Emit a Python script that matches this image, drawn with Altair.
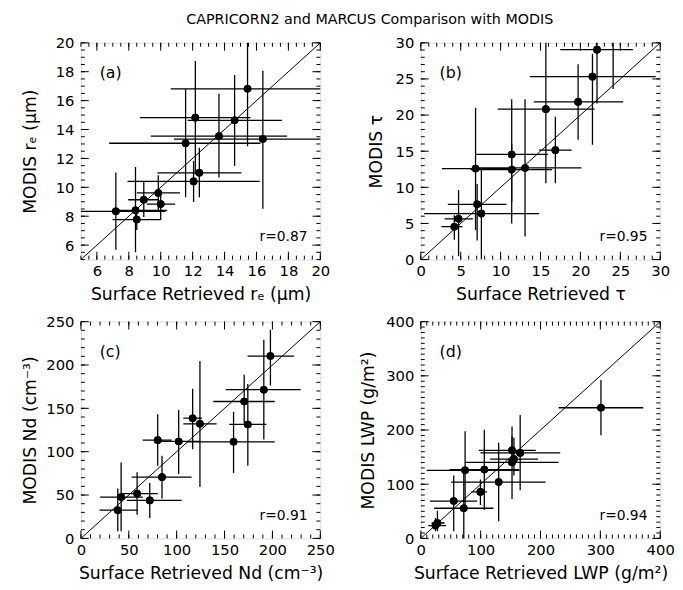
import altair as alt
import pandas as pd

FONT = "DejaVu Sans"
W, H = 243, 220
MAJ, MIN = 8, 4

title_text = "CAPRICORN2 and MARCUS Comparison with MODIS"

# ---------------- (a) effective radius ----------------
re_sfc = [7.19, 8.42, 8.5, 8.94, 9.85, 10.0, 11.56, 12.06, 12.17, 12.42, 13.65, 14.63, 15.44, 16.4]
re_sfc_lo = [4.8, 6.98, 6.98, 7.96, 8.5, 9.13, 6.77, 7.92, 8.69, 9.79, 9.38, 11.69, 10.63, 10.83]
re_sfc_hi = [10.3, 10.4, 10.0, 9.9, 11.21, 10.9, 16.25, 16.2, 15.63, 15.06, 17.92, 17.6, 21.0, 21.0]
re_mod = [8.34, 8.41, 7.77, 9.14, 9.61, 8.84, 13.05, 10.41, 14.82, 11.0, 13.55, 14.64, 16.82, 13.34]
re_mod_lo = [5.68, 5.5, 7.05, 7.95, 8.4, 7.73, 9.32, 8.98, 10.9, 9.32, 10.68, 11.48, 12.84, 8.52]
re_mod_hi = [11.02, 11.41, 8.4, 10.41, 10.84, 9.43, 16.82, 11.82, 18.75, 12.73, 16.48, 17.77, 21.0, 18.07]
re_domain = [5, 20]
re_major = [6, 8, 10, 12, 14, 16, 18, 20]
re_minor = [5 + 0.5 * i for i in range(31)]

# ---------------- (b) optical depth ----------------
tau_sfc = [4.2, 4.73, 6.86, 7.06, 7.59, 11.39, 11.39, 13.06, 15.67, 16.86, 19.71, 21.51, 22.08, 24.1]
tau_sfc_lo = [2.57, 2.98, 2.65, 3.39, 0.41, 6.94, 6.24, 7.06, 9.63, 14.82, 14.16, 13.67, 17.47, 20.0]
tau_sfc_hi = [5.22, 6.53, 11.96, 10.73, 14.82, 15.92, 16.45, 20.12, 21.76, 18.9, 25.35, 29.43, 26.57, 28.0]
tau_mod = [4.55, 5.64, 12.59, 7.64, 6.36, 14.55, 12.45, 12.68, 20.82, 15.14, 21.82, 25.32, 29.05, 33.0]
tau_mod_lo = [2.73, 0.45, 4.1, 2.64, 0.0, 5.0, 8.0, 3.18, 10.55, 10.55, 16.6, 15.9, 21.6, 23.6]
tau_mod_hi = [6.14, 9.64, 21.0, 10.45, 12.6, 22.18, 16.0, 22.18, 31.0, 19.77, 27.05, 28.5, 31.0, 40.0]
tau_domain = [0, 30]
tau_major = [0, 5, 10, 15, 20, 25, 30]
tau_minor = list(range(0, 31))

# ---------------- (c) droplet number ----------------
nd_sfc = [38.5, 42.0, 58.7, 71.9, 80.2, 84.7, 102.1, 116.7, 124.3, 159.4, 170.5, 174.3, 191.0, 197.9]
nd_sfc_lo = [19.4, 20.1, 41.7, 47.9, 64.6, 53.0, 80.0, 107.0, 107.0, 110.0, 138.2, 154.9, 151.4, 174.0]
nd_sfc_hi = [59.0, 64.6, 80.2, 105.2, 94.8, 115.6, 124.0, 126.4, 141.7, 202.4, 202.4, 193.75, 229.5, 222.6]
nd_mod = [32.5, 47.6, 51.7, 43.8, 113.3, 70.6, 111.8, 138.6, 132.2, 111.4, 157.9, 131.4, 171.5, 210.3]
nd_mod_lo = [8.3, 8.3, 27.2, 23.4, 83.8, 46.1, 74.4, 102.7, 59.3, 75.5, 132.9, 83.8, 114.0, 176.4]
nd_mod_hi = [57.4, 87.6, 76.3, 63.8, 143.1, 95.2, 148.0, 172.6, 204.7, 146.1, 188.8, 178.2, 229.2, 240.6]
nd_domain = [0, 250]
nd_major = [0, 50, 100, 150, 200, 250]
nd_minor = list(range(0, 251, 10))

# ---------------- (d) liquid water path ----------------
lwp_sfc = [24.5, 27.8, 55.0, 71.8, 74.0, 99.6, 106.1, 130.1, 152.4, 152.4, 155.6, 166.0, 301.0]
lwp_sfc_lo = [12.5, 18.0, 15.2, 22.3, 9.8, 84.4, 47.9, 50.6, 73.5, 96.9, 115.9, 99.6, 230.2]
lwp_sfc_hi = [42.4, 39.7, 94.1, 121.4, 164.9, 110.5, 164.0, 208.4, 230.2, 192.1, 195.9, 232.9, 371.7]
lwp_mod = [23.6, 28.4, 68.9, 55.6, 125.7, 85.8, 126.9, 103.9, 140.2, 162.5, 146.2, 157.7, 241.1]
lwp_mod_lo = [13.3, 13.3, 13.3, -5.0, 55.6, 61.6, 52.6, 31.4, 72.5, 140.0, 116.0, 88.8, 190.3]
lwp_mod_hi = [37.5, 50.8, 116.0, 122.0, 197.6, 108.8, 200.6, 176.4, 188.5, 206.6, 185.5, 227.8, 292.4]
lwp_domain = [0, 400]
lwp_major = [0, 100, 200, 300, 400]
lwp_minor = list(range(0, 401, 10))


def tick_layers(vals, sc, length):
    """Inward ticks on all four sides of the frame, placed by the panel's scale."""
    tdf = pd.DataFrame({"v": vals})
    base = alt.Chart(tdf).mark_rule(color="black", strokeWidth=1)
    xs = alt.X("v:Q", scale=sc, axis=None)
    ys = alt.Y("v:Q", scale=sc, axis=None)
    return [
        base.encode(x=xs, y=alt.value(H), y2=alt.value(H - length)),
        base.encode(x=xs, y=alt.value(0), y2=alt.value(length)),
        base.encode(y=ys, x=alt.value(0), x2=alt.value(length)),
        base.encode(y=ys, x=alt.value(W), x2=alt.value(W - length)),
    ]


def make_panel(x, xlo, xhi, y, ylo, yhi, domain, major, minor,
               xtitle, ytitle, tag, rtext, ypad):
    df = pd.DataFrame({"x": x, "xlo": xlo, "xhi": xhi, "y": y, "ylo": ylo, "yhi": yhi})
    diag = pd.DataFrame({"v": domain})
    sc = alt.Scale(domain=domain, nice=False, zero=False)
    lab = dict(labelFont=FONT, labelFontSize=15, labelColor="black",
               labelOverlap=False, labelFlush=False, titleFont=FONT, titleFontSize=17.5,
               titleFontWeight="normal", titleColor="black", domain=False, grid=False,
               tickSize=0, tickOpacity=0)
    x_main = alt.Axis(orient="bottom", values=major, labelPadding=4,
                      title=xtitle, titlePadding=8, **lab)
    y_main = alt.Axis(orient="left", values=major, labelPadding=7,
                      title=ytitle, titlePadding=ypad, **lab)
    # first layer carries the axes (labels + titles)
    axes_layer = alt.Chart(df).mark_circle(color="black", opacity=1, size=60, clip=True).encode(
        x=alt.X("x:Q", scale=sc, axis=x_main),
        y=alt.Y("y:Q", scale=sc, axis=y_main),
    )
    vb = alt.Chart(df).mark_rule(color="black", strokeWidth=1.3, clip=True).encode(
        x=alt.X("x:Q", scale=sc, axis=None),
        y=alt.Y("ylo:Q", scale=sc, axis=None),
        y2="yhi:Q",
    )
    hb = alt.Chart(df).mark_rule(color="black", strokeWidth=1.3, clip=True).encode(
        x=alt.X("xlo:Q", scale=sc, axis=None),
        x2="xhi:Q",
        y=alt.Y("y:Q", scale=sc, axis=None),
    )
    dl = alt.Chart(diag).mark_line(color="black", strokeWidth=1, clip=True).encode(
        x=alt.X("v:Q", scale=sc, axis=None),
        y=alt.Y("v:Q", scale=sc, axis=None),
    )
    pts = alt.Chart(df).mark_circle(color="black", opacity=1, size=60, clip=True).encode(
        x=alt.X("x:Q", scale=sc, axis=None),
        y=alt.Y("y:Q", scale=sc, axis=None),
    )
    tag_t = alt.Chart(pd.DataFrame({"t": [tag]})).mark_text(
        font=FONT, fontSize=16, align="left", baseline="top", color="black"
    ).encode(text="t:N", x=alt.value(19), y=alt.value(23))
    r_t = alt.Chart(pd.DataFrame({"t": [rtext]})).mark_text(
        font=FONT, fontSize=14, align="right", baseline="alphabetic", color="black"
    ).encode(text="t:N", x=alt.value(W - 13), y=alt.value(H - 19))
    layers = ([axes_layer] + tick_layers(minor, sc, MIN) + tick_layers(major, sc, MAJ)
              + [vb, hb, dl, pts, tag_t, r_t])
    return (
        alt.layer(*layers)
        .resolve_axis(x="independent", y="independent")
        .properties(width=W, height=H)
    )


pa = make_panel(re_sfc, re_sfc_lo, re_sfc_hi, re_mod, re_mod_lo, re_mod_hi,
                re_domain, re_major, re_minor,
                "Surface Retrieved rₑ (μm)", "MODIS rₑ (μm)", "(a)", "r=0.87", 16)
pb = make_panel(tau_sfc, tau_sfc_lo, tau_sfc_hi, tau_mod, tau_mod_lo, tau_mod_hi,
                tau_domain, tau_major, tau_minor,
                "Surface Retrieved τ", "MODIS τ", "(b)", "r=0.95", 10)
pc = make_panel(nd_sfc, nd_sfc_lo, nd_sfc_hi, nd_mod, nd_mod_lo, nd_mod_hi,
                nd_domain, nd_major, nd_minor,
                "Surface Retrieved Nd (cm⁻³)", "MODIS Nd (cm⁻³)", "(c)", "r=0.91", 6)
pd_ = make_panel(lwp_sfc, lwp_sfc_lo, lwp_sfc_hi, lwp_mod, lwp_mod_lo, lwp_mod_hi,
                 lwp_domain, lwp_major, lwp_minor,
                 "Surface Retrieved LWP (g/m²)", "MODIS LWP (g/m²)", "(d)", "r=0.94", 8)

chart = (
    alt.concat(pa, pb, pc, pd_, columns=2, spacing={"row": 10, "column": 24})
    .properties(
        title=alt.TitleParams(text=title_text, font=FONT, fontSize=14.5, fontWeight="normal",
                              color="black", anchor="middle", offset=8, dx=22),
        padding={"left": 13, "top": 0, "right": 0, "bottom": 0},
    )
    .configure_view(stroke="black", strokeWidth=1)
    .configure(background="white")
)

chart.save("out.html", embed_options={"renderer": "svg", "actions": False})
